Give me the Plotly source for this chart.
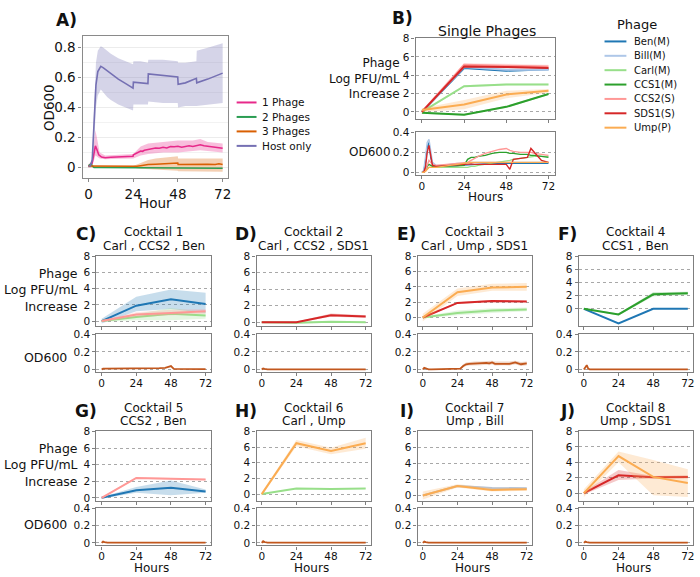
import plotly.graph_objects as go

W, H = 700, 577
HOURS = [0, 24, 48, 72]

# ---------- Panel A : OD600 by number of phages ----------
HOST_T = [0, 1, 2, 3, 4, 5, 6.6, 8, 10, 12, 16, 20, 23.9, 24.1, 28, 31.9, 32.1, 40, 47.9, 48.1, 52, 57.9, 58.1, 64, 72]
HOST_OD = [0.01, 0.01, 0.05, 0.3, 0.55, 0.64, 0.675, 0.665, 0.645, 0.625, 0.59, 0.56, 0.53, 0.57, 0.565, 0.56,
           0.625, 0.615, 0.605, 0.555, 0.565, 0.595, 0.565, 0.59, 0.63]
HOST_HI = [0.02, 0.02, 0.08, 0.45, 0.7, 0.78, 0.81, 0.8, 0.78, 0.76, 0.73, 0.71, 0.69, 0.71, 0.71, 0.70,
           0.72, 0.72, 0.71, 0.70, 0.70, 0.71, 0.78, 0.80, 0.83]
HOST_LO = [0.0, 0.0, 0.02, 0.15, 0.4, 0.48, 0.52, 0.5, 0.47, 0.45, 0.42, 0.40, 0.38, 0.42, 0.42, 0.42,
           0.44, 0.43, 0.43, 0.40, 0.41, 0.41, 0.41, 0.42, 0.43]

ONE_T = [0, 1, 2, 3, 3.7, 4.5, 5.5, 7, 9, 12, 16, 20, 23.9, 24.1, 26, 27, 28, 29, 30, 32,
         34, 36, 38, 40, 42, 44, 46, 48, 50, 52, 54, 56, 58, 60, 62, 64, 66, 68, 70, 72]
ONE_OD = [0.01, 0.01, 0.03, 0.09, 0.145, 0.12, 0.085, 0.07, 0.065, 0.068, 0.07, 0.072, 0.075, 0.085, 0.095,
          0.105, 0.11, 0.108, 0.115, 0.12, 0.125, 0.13, 0.128, 0.135, 0.13, 0.14, 0.138, 0.142, 0.135, 0.14,
          0.145, 0.14, 0.148, 0.152, 0.145, 0.14, 0.138, 0.135, 0.132, 0.128]
ONE_BAND_T = [0, 2, 3, 3.7, 4.5, 6, 9, 16, 24, 28, 32, 40, 48, 56, 60, 64, 72]
ONE_HI = [0.02, 0.05, 0.17, 0.25, 0.2, 0.1, 0.08, 0.085, 0.09, 0.14, 0.16, 0.17, 0.18, 0.18, 0.19, 0.17, 0.16]
ONE_LO = [0.0, 0.02, 0.05, 0.08, 0.07, 0.06, 0.055, 0.058, 0.06, 0.08, 0.09, 0.1, 0.1, 0.11, 0.115, 0.11, 0.1]

TWO_T = [0, 1, 1.5, 2, 3, 6, 24, 48, 72]
TWO_OD = [0.01, 0.02, 0.025, 0.01, 0.0, 0.0, 0.0, -0.004, -0.005]

THREE_T = [0, 1, 2, 4, 24, 26, 28, 30, 32, 36, 40, 44, 47.9, 48.1, 52, 56, 60, 64, 68, 70, 72]
THREE_OD = [0.01, 0.01, 0.005, 0.005, 0.005, 0.008, 0.012, 0.016, 0.02, 0.022, 0.025, 0.028, 0.03, 0.02,
            0.021, 0.02, 0.02, 0.021, 0.02, 0.025, 0.02]
THREE_HI = [0.02, 0.02, 0.01, 0.01, 0.01, 0.02, 0.03, 0.04, 0.05, 0.06, 0.065, 0.07, 0.075, 0.06,
            0.06, 0.06, 0.06, 0.06, 0.06, 0.065, 0.06]
THREE_LO = [0, 0, 0, 0, 0, -0.005, -0.008, -0.01, -0.012, -0.015, -0.018, -0.02, -0.022, -0.025,
            -0.027, -0.028, -0.028, -0.028, -0.028, -0.028, -0.028]

GROUP_LABELS = ["1 Phage", "2 Phages", "3 Phages", "Host only"]
GROUP_COLORS = ["#e7298a", "#2a9d52", "#d95f02", "#7570b3"]

# ---------- Phages ----------
PHAGES = ["Ben", "Bill", "Carl", "CCS1", "CCS2", "SDS1", "Ump"]
PHAGE_LABELS = ["Ben(M)", "Bill(M)", "Carl(M)", "CCS1(M)", "CCS2(S)", "SDS1(S)", "Ump(P)"]
PHAGE_COLORS = ["#1f77b4", "#aec7e8", "#98df8a", "#2ca02c", "#ff9896", "#d62728", "#fbac52"]

# Panel B: single phages, log PFU/mL increase (mean, low, high)
B_LOG = {
    "Ben": ([0, 4.8, 4.5, 4.65], [-0.1, 4.7, 4.4, 4.55], [0.1, 4.9, 4.6, 4.75]),
    "Bill": ([0, 4.9, 4.6, 4.6], [-0.1, 4.8, 4.5, 4.5], [0.1, 5.0, 4.7, 4.7]),
    "Carl": ([0, 2.8, 3.0, 3.0], [-0.1, 2.7, 2.9, 2.9], [0.1, 2.9, 3.1, 3.1]),
    "CCS1": ([-0.1, -0.3, 0.55, 1.95], [-0.2, -0.4, 0.45, 1.85], [0.0, -0.2, 0.65, 2.05]),
    "CCS2": ([0, 5.15, 5.05, 4.95], [-0.2, 4.95, 4.85, 4.75], [0.2, 5.35, 5.25, 5.15]),
    "SDS1": ([0, 4.95, 4.9, 4.8], [-0.1, 4.85, 4.8, 4.7], [0.1, 5.05, 5.0, 4.9]),
    "Ump": ([0.2, 0.8, 1.9, 2.3], [0.0, 0.3, 1.5, 2.1], [0.4, 1.3, 2.3, 2.5]),
}
B_OD_T = [0, 1, 2, 3, 4, 5, 6, 8, 12, 16, 20, 24, 26, 28, 30, 32, 36, 40, 44, 48, 50, 52, 56, 60, 62, 64, 68, 72]
B_OD = {
    "Ben": [0, 0.01, 0.1, 0.25, 0.3, 0.15, 0.08, 0.06, 0.06, 0.065, 0.07, 0.07, 0.08, 0.08, 0.08, 0.085,
            0.085, 0.09, 0.09, 0.09, 0.09, 0.09, 0.09, 0.09, 0.09, 0.09, 0.09, 0.09],
    "Bill": [0, 0.02, 0.15, 0.3, 0.33, 0.2, 0.1, 0.07, 0.07, 0.08, 0.09, 0.09, 0.1, 0.1, 0.1, 0.1,
             0.1, 0.1, 0.1, 0.1, 0.1, 0.1, 0.1, 0.1, 0.1, 0.1, 0.1, 0.1],
    "Carl": [0, 0, 0.02, 0.04, 0.05, 0.05, 0.05, 0.05, 0.05, 0.05, 0.05, 0.05, 0.05, 0.06, 0.06, 0.07,
             0.08, 0.09, 0.1, 0.11, 0.12, 0.13, 0.14, 0.15, 0.15, 0.16, 0.16, 0.16],
    "CCS1": [0, 0, 0.02, 0.06, 0.08, 0.07, 0.06, 0.06, 0.06, 0.06, 0.065, 0.07, 0.13, 0.15, 0.15, 0.16,
             0.17, 0.19, 0.2, 0.2, 0.19, 0.19, 0.18, 0.18, 0.17, 0.17, 0.16, 0.15],
    "CCS2": [0, 0, 0.02, 0.08, 0.12, 0.1, 0.08, 0.07, 0.075, 0.08, 0.085, 0.09, 0.1, 0.12, 0.14, 0.16,
             0.19, 0.21, 0.23, 0.24, 0.22, 0.21, 0.2, 0.2, 0.2, 0.19, 0.18, 0.17],
    "SDS1": [0, 0, 0.05, 0.2, 0.27, 0.15, 0.07, 0.06, 0.065, 0.07, 0.075, 0.08, 0.085, 0.085, 0.08, 0.08,
             0.08, 0.08, 0.08, 0.08, 0.03, 0.13, 0.14, 0.15, 0.24, 0.2, 0.12, 0.1],
    "Ump": [0, 0, 0.01, 0.03, 0.05, 0.05, 0.05, 0.05, 0.06, 0.07, 0.08, 0.09, 0.1, 0.1, 0.1, 0.1,
            0.1, 0.1, 0.1, 0.1, 0.1, 0.1, 0.1, 0.1, 0.1, 0.1, 0.1, 0.1],
}

# ---------- Cocktails ----------
COCKTAIL_TITLES = ["Cocktail 1", "Cocktail 2", "Cocktail 3", "Cocktail 4",
                   "Cocktail 5", "Cocktail 6", "Cocktail 7", "Cocktail 8"]
COCKTAIL_MEMBERS = ["Carl , CCS2 , Ben", "Carl , CCS2 , SDS1", "Carl , Ump , SDS1", "CCS1 , Ben",
                    "CCS2 , Ben", "Carl , Ump", "Ump , Bill", "Ump , SDS1"]
COCKTAIL_LETTERS = ["C)", "D)", "E)", "F)", "G)", "H)", "I)", "J)"]

C1_LOG = {"Carl": ([0, 0.5, 0.9, 0.7], [-0.1, 0.1, 0.1, 0.3], [0.1, 0.9, 1.6, 1.1]),
          "CCS2": ([0, 0.8, 1.0, 1.2], [-0.1, 0.5, 0.7, 0.9], [0.1, 1.1, 1.4, 1.5]),
          "Ben": ([0, 1.9, 2.7, 2.1], [-0.3, 1.2, 1.5, 1.0], [0.3, 3.0, 3.9, 3.5])}
C2_LOG = {"Carl": ([0, -0.05, 0.05, 0.0], [-0.1, -0.15, -0.05, -0.1], [0.1, 0.05, 0.15, 0.1]),
          "SDS1": ([0, 0, 0.85, 0.7], [-0.05, -0.05, 0.65, 0.55], [0.05, 0.05, 1.05, 0.85])}
C3_LOG = {"Carl": ([0, 0.6, 0.9, 1.05], [-0.1, 0.3, 0.6, 0.8], [0.1, 0.9, 1.2, 1.3]),
          "SDS1": ([0, 1.9, 2.15, 2.1], [-0.1, 1.8, 2.0, 2.0], [0.1, 2.0, 2.3, 2.2]),
          "Ump": ([0, 3.3, 3.9, 4.0], [-0.5, 2.8, 3.5, 3.5], [0.5, 3.8, 4.4, 4.5])}
C4_LOG = {"Ben": ([0, -2.2, 0, 0], [-0.05, -2.25, -0.05, -0.05], [0.05, -2.15, 0.05, 0.05]),
          "CCS1": ([0, -0.85, 2.2, 2.35], [-0.1, -1.0, 1.9, 2.1], [0.1, -0.7, 2.5, 2.6])}
C5_LOG = {"Ben": ([0, 0.9, 1.2, 0.75], [-0.1, 0.6, 0.3, 0.6], [0.1, 1.3, 2.1, 1.0]),
          "CCS2": ([0, 2.4, 2.3, 2.2], [-0.1, 2.3, 2.2, 2.1], [0.1, 2.5, 2.4, 2.3])}
C6_LOG = {"Carl": ([0, 0.7, 0.65, 0.7], [-0.05, 0.65, 0.6, 0.65], [0.05, 0.75, 0.7, 0.75]),
          "Ump": ([0, 6.5, 5.5, 6.5], [-0.2, 6.1, 5.1, 5.8], [0.2, 6.9, 5.9, 7.2])}
C7_LOG = {"Bill": ([0, 1.2, 0.95, 0.9], [-0.1, 1.1, 0.85, 0.8], [0.1, 1.3, 1.05, 1.0]),
          "Ump": ([0, 1.2, 0.7, 0.8], [-0.5, 1.0, 0.5, 0.6], [0.5, 1.4, 1.0, 1.0])}
C8_LOG = {"SDS1": ([0, 2.3, 2.05, 2.1], [-0.2, 1.7, 1.9, 1.9], [0.2, 3.0, 2.2, 2.3]),
          "Ump": ([0, 4.8, 2.1, 1.3], [-0.5, 4.0, -0.3, -0.5], [0.5, 5.4, 4.3, 3.1])}

OD_T = [0, 1, 2, 3, 4, 6, 24, 26, 28, 30, 32, 36, 40, 44, 46, 48, 50, 56, 60, 64, 68, 72]
C1_OD = [0, 0.01, 0.01, 0.01, 0.01, 0.01, 0.01, 0.01, 0.01, 0.01, 0.012, 0.014, 0.016, 0.02, 0.03, 0.04,
         0.008, 0.005, 0.005, 0.005, 0.005, 0.005]
C2_OD = [0, 0.012, 0.008, 0.004, 0.002, 0.002, 0.002, 0.002, 0.002, 0.002, 0.002, 0.002, 0.002, 0.002,
         0.002, 0.002, 0.002, 0.002, 0.002, 0.002, 0.002, 0.002]
C3_OD = [0, 0.02, 0.015, 0.005, 0.002, 0.002, 0.002, 0.01, 0.04, 0.06, 0.065, 0.07, 0.068, 0.075, 0.07,
         0.08, 0.065, 0.07, 0.065, 0.08, 0.06, 0.07]
C3_OD_LO = [0, 0.01, 0.005, 0, 0, 0, 0, 0, 0.025, 0.04, 0.045, 0.05, 0.05, 0.055, 0.05, 0.06, 0.045,
            0.05, 0.045, 0.06, 0.04, 0.05]
C3_OD_HI = [0, 0.03, 0.025, 0.01, 0.004, 0.004, 0.004, 0.02, 0.06, 0.08, 0.085, 0.09, 0.09, 0.095, 0.095,
            0.1, 0.09, 0.09, 0.09, 0.1, 0.085, 0.09]
C4_OD = [0, 0.03, 0.05, 0.01, 0.003, 0.002, 0.002, 0.002, 0.002, 0.002, 0.002, 0.002, 0.002, 0.002,
         0.002, 0.002, 0.002, 0.002, 0.002, 0.002, 0.002, 0.002]
C5_OD = [0, 0.015, 0.01, 0.003, 0.002, 0.002, 0.002, 0.002, 0.002, 0.002, 0.002, 0.002, 0.002, 0.002,
         0.002, 0.002, 0.002, 0.002, 0.002, 0.002, 0.002, 0.002]
C6_OD = [0, 0.02, 0.01, 0.003, 0.002, 0.002, 0.002, 0.002, 0.002, 0.002, 0.002, 0.002, 0.002, 0.002,
         0.002, 0.002, 0.002, 0.002, 0.002, 0.002, 0.002, 0.002]
C7_OD = [0, 0.015, 0.008, 0.003, 0.002, 0.002, 0.002, 0.002, 0.002, 0.002, 0.002, 0.002, 0.002, 0.002,
         0.002, 0.002, 0.002, 0.002, 0.002, 0.002, 0.002, 0.002]
C8_OD = [0, 0.015, 0.01, 0.003, 0.002, 0.002, 0.002, 0.002, 0.002, 0.002, 0.002, 0.003, 0.002, 0.003,
         0.002, 0.004, 0.002, 0.003, 0.004, 0.003, 0.004, 0.003]

COCKTAIL_LOG = [C1_LOG, C2_LOG, C3_LOG, C4_LOG, C5_LOG, C6_LOG, C7_LOG, C8_LOG]
COCKTAIL_OD = [C1_OD, C2_OD, C3_OD, C4_OD, C5_OD, C6_OD, C7_OD, C8_OD]
COCKTAIL_OD_BAND = {2: (C3_OD_LO, C3_OD_HI)}

# axis ranges (layout, not data)
COCKTAIL_YMIN = [-0.6, -0.45, -1.1, -2.6, -0.4, -0.9, -0.7, -1.05]
OD_COLOR = "#c2571d"
FONT = "DejaVu Sans"


def px_x(x):
    return x / W


def px_y(y):
    return 1 - y / H


def rgba(hex_color, a):
    h = hex_color.lstrip("#")
    return "rgba(%d,%d,%d,%s)" % (int(h[0:2], 16), int(h[2:4], 16), int(h[4:6], 16), a)


fig = go.Figure()
layout = {}
counter = [0]


def new_axes(x0, x1, y0, y1, xopts, yopts):
    counter[0] += 1
    s = "" if counter[0] == 1 else str(counter[0])
    layout["xaxis" + s] = dict(domain=[px_x(x0), px_x(x1)], anchor="y" + s, **xopts)
    layout["yaxis" + s] = dict(domain=[px_y(y1), px_y(y0)], anchor="x" + s, **yopts)
    return "x" + s, "y" + s


def add_band(x, lo, hi, color, xa, ya, alpha=0.25):
    fig.add_trace(go.Scatter(x=list(x) + list(x)[::-1], y=list(hi) + list(lo)[::-1],
                             fill="toself", fillcolor=rgba(color, alpha), line=dict(width=0),
                             mode="lines", hoverinfo="skip", showlegend=False, xaxis=xa, yaxis=ya))


def add_line(x, y, color, xa, ya, width=2.0):
    fig.add_trace(go.Scatter(x=x, y=y, mode="lines", line=dict(color=color, width=width),
                             showlegend=False, xaxis=xa, yaxis=ya))


FRAME = dict(showline=True, mirror=True, linecolor="#7f7f7f", linewidth=1.3, ticks="outside",
             ticklen=3, tickcolor="#7f7f7f", zeroline=False)
XR = [-3.6, 75.6]


def x_top():
    return dict(FRAME, range=XR, tickvals=HOURS, showticklabels=False, showgrid=False)


def x_od():
    return dict(FRAME, range=XR, tickvals=HOURS, showgrid=False, tickfont=dict(size=10.5),
                ticklabelstandoff=-2)


def y_log(ymin):
    return dict(FRAME, range=[ymin, 8.02], tickvals=[0, 2, 4, 6, 8], showgrid=True, gridcolor="#a8a8a8",
                griddash="dot", gridwidth=0.8, tickfont=dict(size=10.5))


def y_od():
    return dict(FRAME, range=[-0.03, 0.405], tickvals=[0, 0.2, 0.4], ticktext=["0", "0.2", "0.4"],
                showgrid=True, gridcolor="#a8a8a8", griddash="dot", gridwidth=0.8, tickfont=dict(size=10.5))


annotations = []
shapes = []


def text(x, y, s, size, anchor="center", bold=False, angle=0):
    annotations.append(dict(x=px_x(x), y=px_y(y), xref="paper", yref="paper", text=("<b>%s</b>" % s) if bold else s,
                            showarrow=False, xanchor=anchor, yanchor="middle", align="right" if anchor == "right" else "center",
                            font=dict(size=size, color="#111"), textangle=angle, borderpad=0))


# ---------- Panel A ----------
xa, ya = new_axes(83, 229, 30, 175,
                  dict(showline=True, mirror=True, linecolor="#8a8a8a", linewidth=1.3, ticks="outside",
                       ticklen=3, tickcolor="#8a8a8a", zeroline=False, range=[-3.2, 74.7], tickvals=HOURS,
                       showgrid=False, tickfont=dict(size=13.5)),
                  dict(showline=True, mirror=True, linecolor="#8a8a8a", linewidth=1.3, ticks="outside",
                       ticklen=3, tickcolor="#8a8a8a", zeroline=False, range=[-0.072, 0.881],
                       tickvals=[0, 0.2, 0.4, 0.6, 0.8], ticktext=["0", "0.2", "0.4", "0.6", "0.8"],
                       showgrid=True, gridcolor="#ececec", gridwidth=1, tickfont=dict(size=13.5),
                       minor=dict(dtick=0.1, tick0=0, showgrid=True, gridcolor="#f2f2f2")))
add_band(HOST_T, HOST_LO, HOST_HI, GROUP_COLORS[3], xa, ya, 0.3)
add_band(ONE_BAND_T, ONE_LO, ONE_HI, GROUP_COLORS[0], xa, ya, 0.3)
add_band(THREE_T, THREE_LO, THREE_HI, GROUP_COLORS[2], xa, ya, 0.3)
add_line(ONE_T, ONE_OD, GROUP_COLORS[0], xa, ya, 1.6)
add_line(TWO_T, TWO_OD, GROUP_COLORS[1], xa, ya, 1.6)
add_line(THREE_T, THREE_OD, GROUP_COLORS[2], xa, ya, 1.6)
add_line(HOST_T, HOST_OD, GROUP_COLORS[3], xa, ya, 1.6)
text(67, 14, "A)", 17, bold=True)
text(50, 103, "OD600", 13.5, angle=-90)
text(156, 200, "Hour", 13.5)
for i, (lab, col) in enumerate(zip(GROUP_LABELS, GROUP_COLORS)):
    yy = 98 + i * 14.7
    shapes.append(dict(type="line", xref="paper", yref="paper", x0=px_x(238), x1=px_x(258),
                       y0=px_y(yy), y1=px_y(yy), line=dict(color=col, width=2)))
    text(262, yy, lab, 10.5, anchor="left")

# ---------- Panel B ----------
xa, ya = new_axes(418, 558, 33, 115, x_top(), y_log(-0.8))
for p, col in zip(PHAGES, PHAGE_COLORS):
    m, lo, hi = B_LOG[p]
    add_band(HOURS, lo, hi, col, xa, ya)
    add_line(HOURS, m, col, xa, ya)
xa, ya = new_axes(418, 558, 128, 172, x_od(), y_od())
for p, col in zip(PHAGES, PHAGE_COLORS):
    add_line(B_OD_T, B_OD[p], col, xa, ya, 1.4)
text(405, 12, "B)", 17, bold=True)
text(490, 25, "Single Phages", 14)
text(403, 74, "Phage<br>Log PFU/mL<br>Increase", 12, anchor="right")
text(394, 148, "OD600", 12, anchor="right")
text(488, 194, "Hours", 12)

# phage legend
text(641, 19, "Phage", 13)
for i, (lab, col) in enumerate(zip(PHAGE_LABELS, PHAGE_COLORS)):
    yy = 36 + i * 14.6
    shapes.append(dict(type="line", xref="paper", yref="paper", x0=px_x(608), x1=px_x(630),
                       y0=px_y(yy), y1=px_y(yy), line=dict(color=col, width=2)))
    text(637, yy, lab, 10, anchor="left")

# ---------- Cocktail panels ----------
COLS = [(97, 212), (258, 373), (420, 535), (582, 697)]
ROWS = [dict(top=(254, 325), od=(333, 372), t1=230, t2=244, letter=232, ylab=288, odlab=357),
        dict(top=(432, 503), od=(510, 548), t1=408, t2=422, letter=411, ylab=466, odlab=527)]

for k in range(8):
    r, c = divmod(k, 4)
    row, (cx0, cx1) = ROWS[r], COLS[c]
    xa, ya = new_axes(cx0, cx1, row["top"][0], row["top"][1], x_top(), y_log(COCKTAIL_YMIN[k]))
    for p, col in zip(PHAGES, PHAGE_COLORS):
        if p in COCKTAIL_LOG[k]:
            m, lo, hi = COCKTAIL_LOG[k][p]
            add_band(HOURS, lo, hi, col, xa, ya)
            add_line(HOURS, m, col, xa, ya)
    xa, ya = new_axes(cx0, cx1, row["od"][0], row["od"][1], x_od(), y_od())
    if k in COCKTAIL_OD_BAND:
        lo, hi = COCKTAIL_OD_BAND[k]
        add_band(OD_T, lo, hi, OD_COLOR, xa, ya)
    add_line(OD_T, COCKTAIL_OD[k], OD_COLOR, xa, ya, 1.8)

    cc = (cx0 + cx1) / 2
    text(cc, row["t1"], COCKTAIL_TITLES[k], 12)
    text(cc, row["t2"], COCKTAIL_MEMBERS[k], 12)
    text(cx0 - 11, row["letter"], COCKTAIL_LETTERS[k], 17, bold=True)
    if c == 0:
        text(79, row["ylab"], "Phage<br>Log PFU/mL<br>Increase", 12.5, anchor="right")
        text(68, row["odlab"], "OD600", 12.5, anchor="right")
    if r == 1:
        text(cc - 2, 570.5, "Hours", 12)

fig.update_layout(
    width=W, height=H, margin=dict(l=0, r=0, t=0, b=0),
    paper_bgcolor="white", plot_bgcolor="white",
    font=dict(family=FONT, size=11, color="#111"),
    showlegend=False, annotations=annotations, shapes=shapes, **layout,
)

fig.write_html("out.html", config={"displayModeBar": False},
               post_script="document.body.style.margin='0px'; document.body.style.overflow='hidden';")
